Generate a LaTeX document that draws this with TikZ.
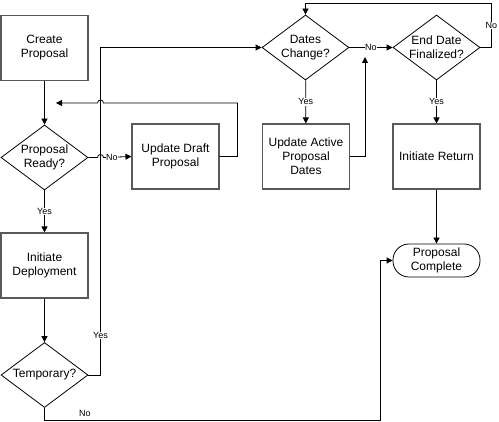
\documentclass[tikz,border=0pt]{standalone}
\usepackage{fontspec}
\setmainfont{Liberation Sans}
\usetikzlibrary{arrows.meta, positioning, shapes.geometric}

\tikzset{
  process/.style={draw=black!65, line width=1.1pt, minimum width=87pt, minimum height=65pt,
    inner sep=1pt, align=center, font=\fontsize{12}{14}\selectfont},
  decision/.style={diamond, draw, line width=0.8pt, minimum width=87pt, minimum height=65pt,
    inner sep=0pt, aspect=1.34, align=center, font=\fontsize{12}{14}\selectfont},
  terminal/.style={draw, line width=0.8pt, rounded corners=16pt, minimum width=87pt,
    minimum height=33pt, inner sep=1pt, align=center, font=\fontsize{12}{14}\selectfont},
  flow/.style={-{Triangle[length=6pt, width=6pt]}, line width=0.8pt},
  lbl/.style={fill=white, inner sep=0.5pt, font=\fontsize{9}{10}\selectfont}
}

\begin{document}
\begin{tikzpicture}[x=1pt, y=1pt]
  \useasboundingbox (0,0) rectangle (499,-422);

  % left column
  \node[process] (create) at (44.5,-48) {Create\\Proposal};
  \node[decision] (ready) at (44.5,-157.5) {Proposal\\Ready?};
  \node[process] (deploy) at (44.5,-265.5) {Initiate\\Deployment};
  \node[decision] (temp) at (44.5,-375) {Temporary?};

  % middle column
  \node[process] (draft) at (175.5,-156.5) {Update Draft\\Proposal};
  \node[decision] (dates) at (305.5,-47.5) {Dates\\Change?};
  \node[process] (active) at (306,-156.5) {Update Active\\Proposal\\Dates};

  % right column
  \node[decision] (final) at (436.5,-47.5) {End Date\\Finalized?};
  \node[process] (return) at (436.5,-156.5) {Initiate Return};
  \node[terminal] (done) at (436.5,-260.5) {Proposal\\Complete};

  % free ends and bends
  \coordinate (bus) at (100.5,-47.5);
  \coordinate (loopin) at (56,-103);
  \coordinate (datesin) at (365,-57);

  % main flow
  \draw[flow] (create) -- (ready);
  \draw[flow] (ready) -- node[lbl] {Yes} (deploy);
  \draw[flow] (deploy) -- (temp);
  \draw[flow] (temp.east) -- (temp.east -| bus) -- node[lbl, pos=0.12] {Yes} (bus) -- (dates.west);
  \draw[flow] (temp.south) -- ++(0,-13) -- node[pos=0.12, above=3pt, inner sep=1pt,
    font=\fontsize{9}{10}\selectfont] {No} ++(335.5,0) |- (done.west);

  % draft loop, with jumps over the bus line
  \draw[flow] (ready.east) -- ([xshift=-3pt]ready.east -| bus)
    arc[start angle=180, end angle=0, radius=3pt] -- node[lbl, pos=0.3] {No} (draft.west);
  \draw[flow] (draft.east) -- ++(18,0) |- ([xshift=3pt]bus |- loopin)
    arc[start angle=0, end angle=180, radius=3pt] -- (loopin);

  % dates
  \draw[flow] (dates) -- node[lbl] {Yes} (active);
  \draw[flow] (dates.east) -- node[lbl] {No} (final.west);
  \draw[flow] (active.east) -| (datesin);

  % end date
  \draw[flow] (final) -- node[lbl] {Yes} (return);
  \draw[flow] (final.east) -- ++(11,0) -- node[lbl] {No} ++(0,44.5) -| (dates.north);
  \draw[flow] (return) -- (done);
\end{tikzpicture}
\end{document}
